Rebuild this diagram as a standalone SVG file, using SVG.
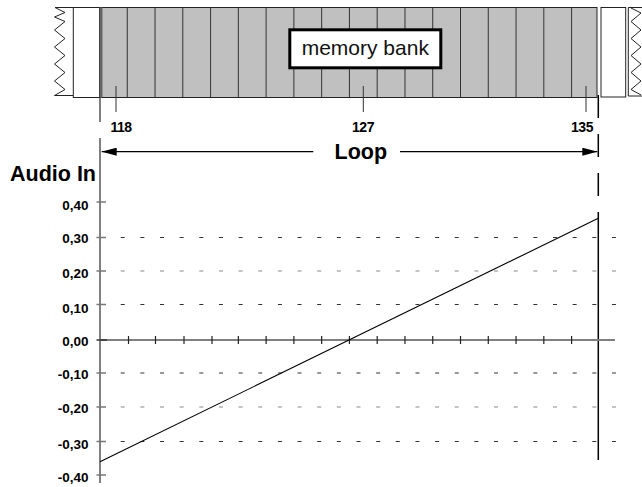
<svg xmlns="http://www.w3.org/2000/svg" width="642" height="487" viewBox="0 0 642 487">
<style>
.lbl{font-family:"Liberation Sans",Arial,sans-serif;font-weight:bold;fill:#000}
.big{font-size:21.5px}
.num{font-size:14px;letter-spacing:-0.5px;text-anchor:middle}
.ylab{font-size:13.5px;text-anchor:end}
.div{stroke:#333;stroke-width:1}
.grid{stroke:#333;stroke-width:1.2;stroke-dasharray:4 15.65}
.gridl{stroke:#888;stroke-width:1.2;stroke-dasharray:4 15.65}
.ytick{stroke:#777;stroke-width:1.5}
.xtick{stroke:#222;stroke-width:1.2}
</style>
<defs>
<marker id="arrow" viewBox="0 0 15 8" refX="15" refY="4" markerWidth="15" markerHeight="8" markerUnits="userSpaceOnUse" orient="auto">
<path d="M0,0 L15,4 L0,8 z" fill="#000"/>
</marker>
</defs>
<rect width="642" height="487" fill="#fff"/>

<g id="left-cut">
<path d="M73.3,7.5 H55 L65,12.5 L54.5,17 L65,21.5 L54.5,30 L65,38.5 L54.5,47 L65,55.5 L54.5,64 L65,72.5 L54.5,81 L65,89.5 L54.5,95.5 H73.3" fill="none" stroke="#222" stroke-width="1"/>
<rect x="73.3" y="7.5" width="26.2" height="90" fill="#fff" stroke="#222" stroke-width="1"/>
</g>

<g id="memory-cells">
<rect x="99.5" y="7.5" width="497.5" height="90" fill="#c0c0c0" stroke="#222" stroke-width="1"/>
<line x1="101" y1="7.5" x2="101" y2="97.5" stroke="#666" stroke-width="3"/>
<g class="div">
<line x1="127.27" y1="7.5" x2="127.27" y2="97.5"/>
<line x1="155.04" y1="7.5" x2="155.04" y2="97.5"/>
<line x1="182.81" y1="7.5" x2="182.81" y2="97.5"/>
<line x1="210.58" y1="7.5" x2="210.58" y2="97.5"/>
<line x1="238.35" y1="7.5" x2="238.35" y2="97.5"/>
<line x1="266.12" y1="7.5" x2="266.12" y2="97.5"/>
<line x1="293.89" y1="7.5" x2="293.89" y2="97.5"/>
<line x1="321.66" y1="7.5" x2="321.66" y2="97.5"/>
<line x1="349.43" y1="7.5" x2="349.43" y2="97.5"/>
<line x1="377.2" y1="7.5" x2="377.2" y2="97.5"/>
<line x1="404.97" y1="7.5" x2="404.97" y2="97.5"/>
<line x1="432.74" y1="7.5" x2="432.74" y2="97.5"/>
<line x1="460.51" y1="7.5" x2="460.51" y2="97.5"/>
<line x1="488.28" y1="7.5" x2="488.28" y2="97.5"/>
<line x1="516.05" y1="7.5" x2="516.05" y2="97.5"/>
<line x1="543.82" y1="7.5" x2="543.82" y2="97.5"/>
<line x1="571.59" y1="7.5" x2="571.59" y2="97.5"/>
</g>
</g>

<g id="right-cut">
<rect x="601" y="7.5" width="24.7" height="89.5" fill="#fff" stroke="#222" stroke-width="1"/>
<path d="M642,7.5 H628.3 V96 H642" fill="none" stroke="#222" stroke-width="1"/>
<path d="M631,8 L641,13 L631,21.5 L641,30 L631,38.5 L641,47 L631,55.5 L641,64 L631,72.5 L641,81 L631,89.5 L641,95" fill="none" stroke="#222" stroke-width="1"/>
</g>

<g id="memory-bank">
<rect x="289.8" y="29.8" width="151" height="38" fill="#fff" stroke="#000" stroke-width="3"/>
<text x="365.3" y="54.5" font-family="'Liberation Sans',Arial,sans-serif" font-size="21" text-anchor="middle" fill="#111">memory bank</text>
</g>

<g id="cell-markers">
<line x1="116" y1="86" x2="116" y2="112" stroke="#333" stroke-width="1"/>
<line x1="363.3" y1="86" x2="363.3" y2="112" stroke="#333" stroke-width="1"/>
<line x1="586" y1="86" x2="586" y2="112" stroke="#333" stroke-width="1"/>
<text class="lbl num" x="121" y="131.5">118</text>
<text class="lbl num" x="363" y="131.5">127</text>
<text class="lbl num" x="582" y="131.5">135</text>
</g>

<g id="connectors">
<line x1="100" y1="98" x2="100" y2="122" stroke="#555" stroke-width="1.5"/>
<line x1="598.3" y1="95" x2="598.3" y2="213" stroke="#000" stroke-width="1.5" stroke-dasharray="23 16"/>
<line x1="598.3" y1="213" x2="598.3" y2="460" stroke="#000" stroke-width="1.5"/>
<line x1="313.3" y1="151.7" x2="101.7" y2="151.7" stroke="#000" stroke-width="1.2" marker-end="url(#arrow)"/>
<line x1="400" y1="151.7" x2="597.3" y2="151.7" stroke="#000" stroke-width="1.2" marker-end="url(#arrow)"/>
</g>
<text class="lbl big" x="360.8" y="159" text-anchor="middle">Loop</text>

<g id="chart">
<g>
<line class="grid" x1="120.7" y1="237.5" x2="616" y2="237.5"/>
<line class="gridl" x1="120.7" y1="271" x2="616" y2="271"/>
<line class="grid" x1="120.7" y1="304.5" x2="616" y2="304.5"/>
<line class="grid" x1="120.7" y1="373" x2="616" y2="373"/>
<line class="gridl" x1="120.7" y1="407" x2="616" y2="407"/>
<line class="grid" x1="120.7" y1="441.5" x2="616" y2="441.5"/>
</g>
<line x1="100" y1="340" x2="615" y2="340" stroke="#808080" stroke-width="2"/>
<line x1="100" y1="138" x2="100" y2="483" stroke="#808080" stroke-width="2"/>
<g class="ytick">
<line x1="96.5" y1="202" x2="106" y2="202"/>
<line x1="96.5" y1="237.5" x2="106" y2="237.5"/>
<line x1="96.5" y1="271" x2="106" y2="271"/>
<line x1="96.5" y1="304.5" x2="106" y2="304.5"/>
<line x1="96.5" y1="340" x2="107" y2="340" stroke="#333"/>
<line x1="96.5" y1="373" x2="106" y2="373"/>
<line x1="96.5" y1="407" x2="106" y2="407"/>
<line x1="96.5" y1="441.5" x2="106" y2="441.5"/>
<line x1="96.5" y1="475" x2="106" y2="475"/>
</g>
<g class="xtick">
<line x1="128.5" y1="336" x2="128.5" y2="344"/>
<line x1="155.5" y1="336" x2="155.5" y2="344"/>
<line x1="184" y1="336" x2="184" y2="344"/>
<line x1="212" y1="336" x2="212" y2="344"/>
<line x1="238.35" y1="336" x2="238.35" y2="344"/>
<line x1="266.12" y1="336" x2="266.12" y2="344"/>
<line x1="293.89" y1="336" x2="293.89" y2="344"/>
<line x1="321.66" y1="336" x2="321.66" y2="344"/>
<line x1="349.43" y1="336" x2="349.43" y2="344"/>
<line x1="377.2" y1="336" x2="377.2" y2="344"/>
<line x1="404.97" y1="336" x2="404.97" y2="344"/>
<line x1="432.74" y1="336" x2="432.74" y2="344"/>
<line x1="460.51" y1="336" x2="460.51" y2="344"/>
<line x1="488.28" y1="336" x2="488.28" y2="344"/>
<line x1="516.05" y1="336" x2="516.05" y2="344"/>
<line x1="543.82" y1="336" x2="543.82" y2="344"/>
<line x1="571.59" y1="336" x2="571.59" y2="344"/>
</g>
<line x1="100" y1="461.7" x2="598.3" y2="218.3" stroke="#000" stroke-width="1.1"/>
<text class="lbl big" x="96" y="180.7" text-anchor="end">Audio In</text>
<text class="lbl ylab" x="88.5" y="210">0,40</text>
<text class="lbl ylab" x="88.5" y="243.3">0,30</text>
<text class="lbl ylab" x="88.5" y="277.5">0,20</text>
<text class="lbl ylab" x="88.5" y="312.7">0,10</text>
<text class="lbl ylab" x="88.5" y="346">0,00</text>
<text class="lbl ylab" x="88.5" y="379.3">-0,10</text>
<text class="lbl ylab" x="88.5" y="412.7">-0,20</text>
<text class="lbl ylab" x="88.5" y="448.5">-0,30</text>
<text class="lbl ylab" x="88.5" y="482">-0,40</text>
</g>
</svg>
